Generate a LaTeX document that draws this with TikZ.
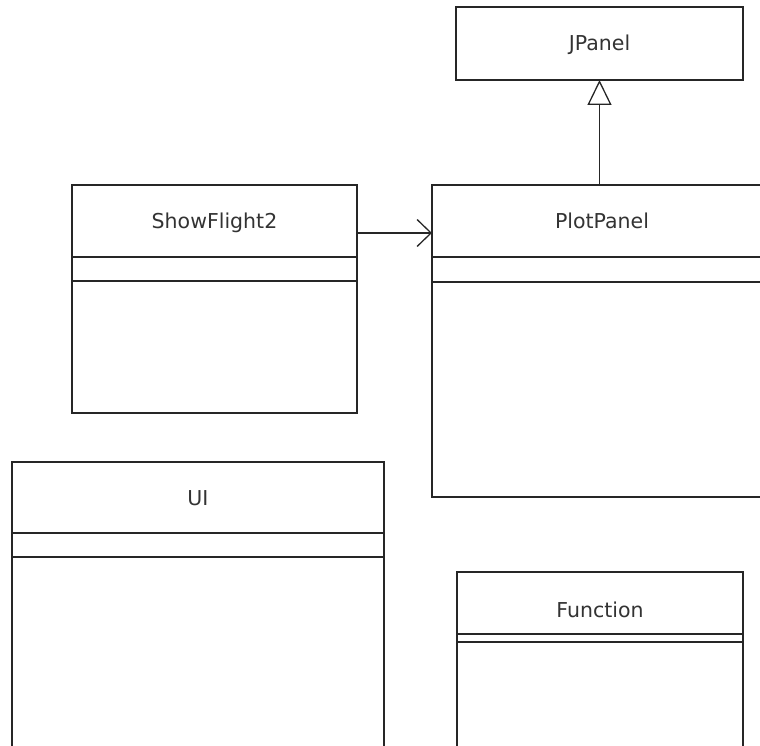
\documentclass[tikz,border=0pt]{standalone}
\usepackage{fontspec}
\setmainfont{DejaVu Sans}
\usepackage{tikz}
\usetikzlibrary{positioning,arrows.meta}

\begin{document}
\begin{tikzpicture}[x=1pt, y=-1pt, line width=1.3pt, draw=black!85,
  box/.style={draw, outer sep=0pt, inner sep=0pt, anchor=north west, text=black!80,
    text height=15pt, text depth=0pt, font=\fontsize{20.5}{24}\selectfont},
  part/.style={draw, outer sep=0pt, inner sep=0pt},
  inherit/.style={-{Triangle[open, length=25pt, width=24pt, line width=1.3pt]}},
  uses/.style={-{Straight Barb[length=14pt, width=27pt, line width=1.3pt]}}]
  \useasboundingbox (0,0) rectangle (760,746);
  \clip (0,0) rectangle (760,746);

  \node[box, minimum width=287pt, minimum height=73pt] (jp) at (456,7) {JPanel};

  \node[box, minimum width=285pt, minimum height=72pt] (sf) at (72,185) {ShowFlight2};
  \node[part, minimum width=285pt, minimum height=24pt, below=0pt of sf] (sfattr) {};
  \node[part, minimum width=285pt, minimum height=132pt, below=0pt of sfattr] (sfops) {};

  \node[box, minimum width=340pt, minimum height=72pt] (pp) at (432,185) {PlotPanel};
  \node[part, minimum width=340pt, minimum height=25pt, below=0pt of pp] (ppattr) {};
  \node[part, minimum width=340pt, minimum height=215pt, below=0pt of ppattr] (ppops) {};

  \node[box, minimum width=372pt, minimum height=71pt] (ui) at (12,462) {UI};
  \node[part, minimum width=372pt, minimum height=24pt, below=0pt of ui] (uiattr) {};
  \node[part, minimum width=372pt, minimum height=220pt, below=0pt of uiattr] (uiops) {};

  \node[box, minimum width=286pt, minimum height=62pt, text height=29pt] (fn) at (457,572) {Function};
  \node[part, minimum width=286pt, minimum height=8pt, below=0pt of fn] (fnattr) {};
  \node[part, minimum width=286pt, minimum height=150pt, below=0pt of fnattr] (fnops) {};

  \draw[inherit] (jp.south |- pp.north) -- (jp.south);
  \draw[uses] ([yshift=-12pt]sf.east) -- ([yshift=-12pt]pp.west);
\end{tikzpicture}
\end{document}
